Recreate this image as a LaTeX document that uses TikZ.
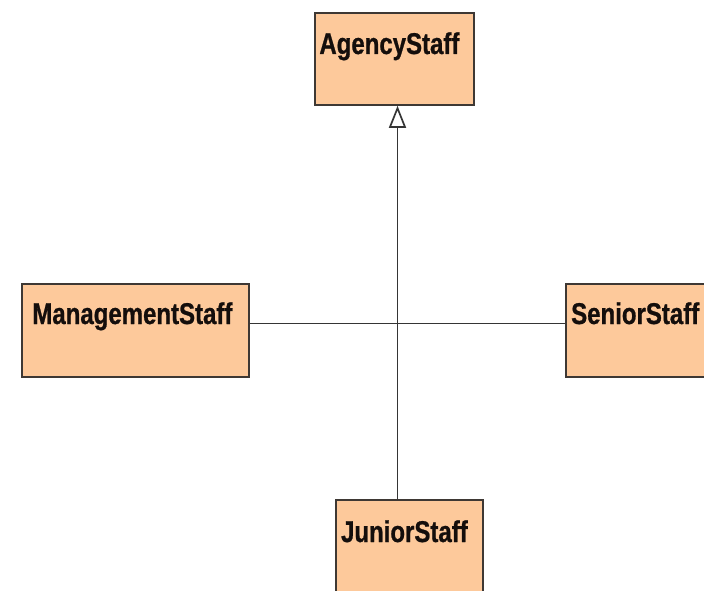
\documentclass[tikz,border=0pt]{standalone}
\usepackage{fontspec}
\setmainfont{Liberation Sans}[FakeStretch=0.8, BoldFeatures={FakeBold=0.8}]
\usetikzlibrary{arrows.meta}
\definecolor{classfill}{HTML}{FDC99B}
\definecolor{classline}{HTML}{3E3834}
\definecolor{wire}{HTML}{353535}
\definecolor{ink}{HTML}{140E0C}
\tikzset{
  classbox/.style={draw=classline, line width=1.8pt, fill=classfill,
    rectangle, inner sep=0pt, anchor=north west},
  classname/.style={anchor=base, text=ink,
    font=\fontsize{30}{30}\selectfont\bfseries, inner sep=0pt},
  wireline/.style={draw=wire, line width=1.7pt},
  generalization/.style={wireline,
    -{Triangle[open, width=17pt, length=22pt, line width=1.7pt]}}
}
\begin{document}
\begin{tikzpicture}[x=1pt, y=-1pt]
\useasboundingbox (0,0) rectangle (704,591);
\clip (0,0) rectangle (704,591);
\fill[white] (0,0) rectangle (704,591);

% class boxes
\node[classbox, minimum width=159pt, minimum height=92pt] (agency) at (314,12) {};
\node[classbox, minimum width=227pt, minimum height=93pt] (mgmt) at (21,283) {};
\node[classbox, minimum width=160pt, minimum height=93pt] (senior) at (565,283) {};
\node[classbox, minimum width=147pt, minimum height=110pt] (junior) at (335,499) {};

% class names
\node[classname] (agencyname) at ([xshift=-5pt, yshift=-42pt]agency.north) {AgencyStaff};
\node[classname] (mgmtname) at ([xshift=-3pt, yshift=-41pt]mgmt.north) {ManagementStaff};
\node[classname, anchor=base west] (seniorname) at ([xshift=6pt, yshift=-41pt]senior.north west) {SeniorStaff};
\node[classname] (juniorname) at ([xshift=-5pt, yshift=-43pt]junior.north) {JuniorStaff};

% connectors
\coordinate (spine) at (397.5,0);
\coordinate (crossbar) at (0,323.5);
\draw[generalization] (junior.north -| spine) -- (agency.south -| spine);
\draw[wireline] (mgmt.east |- crossbar) -- (senior.west |- crossbar);
\end{tikzpicture}
\end{document}
